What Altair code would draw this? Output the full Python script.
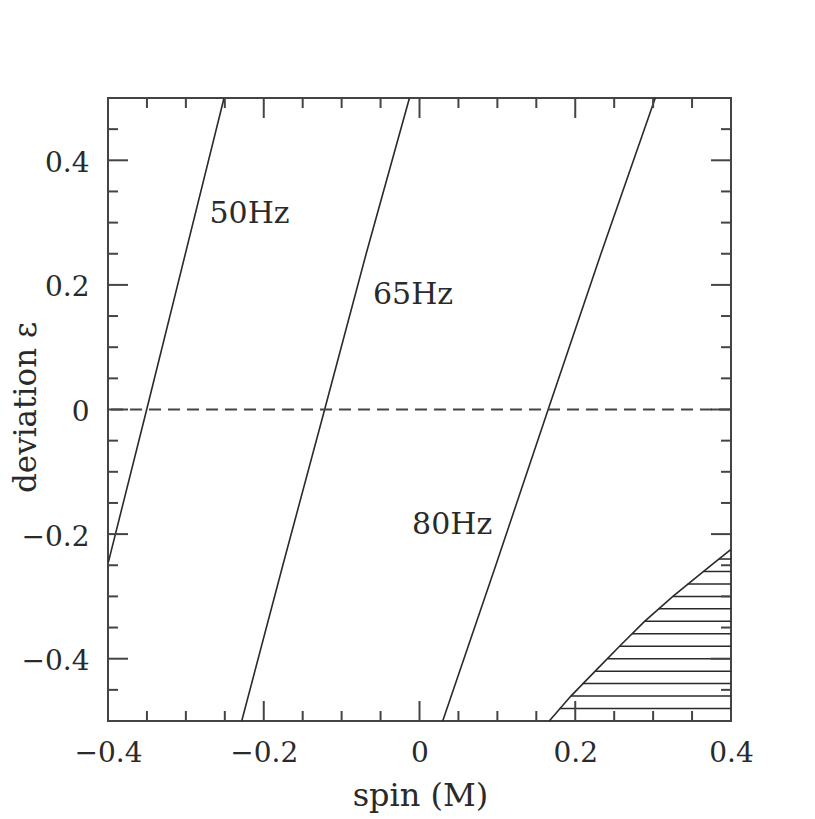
import altair as alt
import pandas as pd

# ---- data ----
freq_labels = ["50Hz", "65Hz", "80Hz"]
line_50_eps = [-0.245, 0.0, 0.5]
line_50_spin = [-0.3995, -0.3503, -0.251]
line_65_eps = [-0.5, -0.25, 0.0, 0.25, 0.5]
line_65_spin = [-0.2283, -0.1755, -0.1218, -0.0685, -0.0129]
line_80_eps = [-0.5, -0.25, 0.0, 0.25, 0.5]
line_80_spin = [0.0298, 0.098, 0.1652, 0.233, 0.3027]

label_spin = [-0.2182, -0.0082, 0.0419]
label_eps = [0.3146, 0.183, -0.186]

boundary_spin = [0.1666, 0.1944, 0.2256, 0.2569, 0.2890, 0.3254, 0.3648, 0.4]
boundary_eps = [-0.5, -0.46, -0.42, -0.38, -0.34, -0.30, -0.26, -0.2247]

hatch_eps = [-0.48, -0.46, -0.44, -0.42, -0.40, -0.38, -0.36, -0.34, -0.32, -0.30, -0.28, -0.26, -0.24]
hatch_start = [0.1798, 0.1944, 0.2094, 0.2256, 0.2420, 0.2569, 0.2728, 0.2890, 0.3070, 0.3254, 0.3442, 0.3648, 0.3841]
hatch_end = 0.4

x_major = [-0.2, 0.0, 0.2]
x_minor = [-0.35, -0.3, -0.25, -0.15, -0.1, -0.05, 0.05, 0.1, 0.15, 0.25, 0.3, 0.35]
y_major = [-0.4, -0.2, 0.0, 0.2, 0.4]
y_minor = [-0.45, -0.35, -0.3, -0.25, -0.15, -0.1, -0.05, 0.05, 0.1, 0.15, 0.25, 0.3, 0.35, 0.45]
x_tick_labels = [-0.4, -0.2, 0, 0.2, 0.4]
y_tick_labels = [-0.4, -0.2, 0, 0.2, 0.4]
reference_eps = [0.0]

W, H = 623, 623
FONT = "DejaVu Serif"
INK = "#2a2a2a"
FRAME = "#444444"

rows = []
for name, es, ss in [("50Hz", line_50_eps, line_50_spin),
                     ("65Hz", line_65_eps, line_65_spin),
                     ("80Hz", line_80_eps, line_80_spin)]:
    for i, (e, s) in enumerate(zip(es, ss)):
        rows.append({"freq": name, "eps": e, "spin": s, "i": i})
lines_df = pd.DataFrame(rows)
labels_df = pd.DataFrame({"label": freq_labels, "spin": label_spin, "eps": label_eps})
boundary_df = pd.DataFrame({"spin": boundary_spin, "eps": boundary_eps, "i": range(len(boundary_spin))})
hatch_df = pd.DataFrame({"eps": hatch_eps, "start": hatch_start, "end": [hatch_end] * len(hatch_eps)})

xs = alt.Scale(domain=[-0.4, 0.4], nice=False, zero=False)
ys = alt.Scale(domain=[-0.5, 0.5], nice=False, zero=False)

x_axis = alt.Axis(values=x_tick_labels, format="~g", ticks=False, tickSize=0, domain=False, grid=False,
                  labelPadding=18, labelFlush=False, title="spin (M)", titleX=312, titleY=84,
                  titleBaseline="alphabetic", titleAlign="center")
y_axis = alt.Axis(values=y_tick_labels, format="~g", ticks=False, tickSize=0, domain=False, grid=False,
                  labelPadding=19, labelOffset=3, labelFlush=False, title="deviation ε",
                  titleX=-73, titleY=309, titleFontSize=31,
                  titleAngle=-90, titleBaseline="alphabetic", titleAlign="center")

curves = alt.Chart(lines_df).mark_line(color=INK, strokeWidth=1.6).encode(
    x=alt.X("spin:Q", scale=xs, axis=x_axis),
    y=alt.Y("eps:Q", scale=ys, axis=y_axis),
    detail="freq:N",
    order="i:Q",
)

boundary = alt.Chart(boundary_df).mark_line(color=INK, strokeWidth=1.6).encode(
    x=alt.X("spin:Q", scale=xs), y=alt.Y("eps:Q", scale=ys), order="i:Q")

hatch = alt.Chart(hatch_df).mark_rule(color=INK, strokeWidth=1.5).encode(
    x=alt.X("start:Q", scale=xs), x2="end:Q", y=alt.Y("eps:Q", scale=ys))

dashed = alt.Chart(pd.DataFrame({"eps": reference_eps})).mark_rule(
    color="#444444", strokeWidth=2, strokeDash=[12, 7]).encode(y=alt.Y("eps:Q", scale=ys))

texts = alt.Chart(labels_df).mark_text(font=FONT, fontSize=30, color=INK,
                                        align="center", baseline="middle").encode(
    x=alt.X("spin:Q", scale=xs), y=alt.Y("eps:Q", scale=ys), text="label:N")


def xticks(vals, length):
    d = pd.DataFrame({"v": vals})
    bot = alt.Chart(d).mark_rule(color=FRAME, strokeWidth=2).encode(
        x=alt.X("v:Q", scale=xs), y=alt.value(H), y2=alt.value(H - length))
    top = alt.Chart(d).mark_rule(color=FRAME, strokeWidth=2).encode(
        x=alt.X("v:Q", scale=xs), y=alt.value(0), y2=alt.value(length))
    return [bot, top]


def yticks(vals, length):
    d = pd.DataFrame({"v": vals})
    left = alt.Chart(d).mark_rule(color=FRAME, strokeWidth=2).encode(
        y=alt.Y("v:Q", scale=ys), x=alt.value(0), x2=alt.value(length))
    right = alt.Chart(d).mark_rule(color=FRAME, strokeWidth=2).encode(
        y=alt.Y("v:Q", scale=ys), x=alt.value(W), x2=alt.value(W - length))
    return [left, right]


tick_layers = xticks(x_major, 20) + xticks(x_minor, 10) + yticks(y_major, 20) + yticks(y_minor, 10)

chart = alt.layer(curves, boundary, hatch, dashed, texts, *tick_layers).properties(
    width=W, height=H,
    autosize=alt.AutoSizeParams(type="none"),
    padding={"left": 100, "top": 90, "right": 70, "bottom": 95},
    background="white",
).configure_view(stroke=FRAME, strokeWidth=2).configure_axis(
    labelFont=FONT, labelFontSize=28, labelColor=INK,
    titleFont=FONT, titleFontSize=32, titleFontWeight="normal", titleColor=INK,
)

chart.save("out.html", embed_options={"renderer": "svg", "actions": False})
